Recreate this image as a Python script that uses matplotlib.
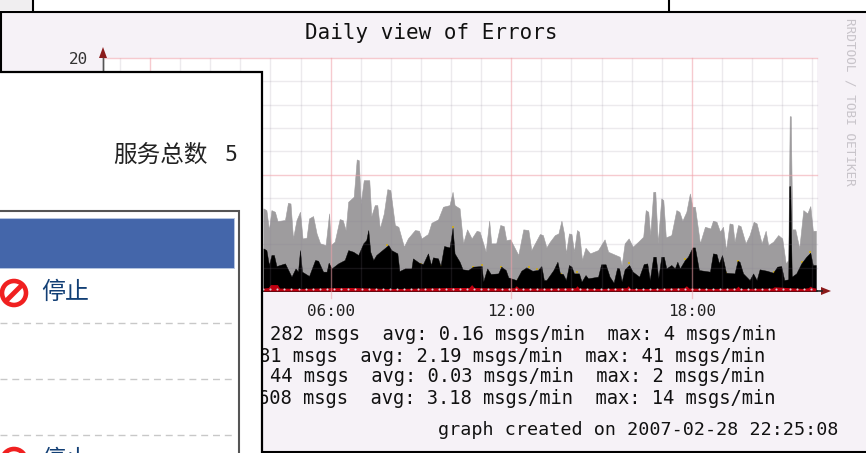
import numpy as np
import matplotlib
matplotlib.use("Agg")
import matplotlib.pyplot as plt
from matplotlib.patches import Rectangle, Circle, Polygon

plt.rcParams['font.family'] = ['Noto Sans CJK SC', 'DejaVu Sans']

W, H = 866, 453
MONO = 'DejaVu Sans Mono'

title = "Daily view of Errors"
tick_minutes = [0, 360, 720, 1080]
tick_labels = ["00:00", "06:00", "12:00", "18:00"]
legend_lines = ["282 msgs  avg: 0.16 msgs/min  max: 4 msgs/min",
                "81 msgs  avg: 2.19 msgs/min  max: 41 msgs/min",
                "44 msgs  avg: 0.03 msgs/min  max: 2 msgs/min",
                "608 msgs  avg: 3.18 msgs/min  max: 14 msgs/min"]
created = "graph created on 2007-02-28 22:25:08"
watermark = "RRDTOOL / TOBI OETIKER"
panel_title = "服务总数"
panel_count = "5"
status_label = "停止"

gray_t = [226,232,237,242,249,254,269,275,280,285,292,299,304,312,317,325,332,339,350,357,360,368,378,384,390,395,406,412,416,420,426,437,441,448,453,458,466,473,479,488,495,506,514,528,536,541,554,561,574,584,597,603,607,617,624,632,641,651,657,669,676,680,690,698,705,710,718,734,744,754,760,777,783,790,
          797,807,814,820,825,829,835,840,845,851,855,861,868,877,893,906,913,936,940,946,954,962,973,983,988,993,997,1003,1007,1012,1019,1023,1028,1039,1049,1055,1061,1069,1076,1081,1086,1096,1106,1117,1122,1129,1136,1142,1148,1155,1161,1165,1172,1177,1187,1195,1203,1209,1219,1227,1232,1242,1252,1260,1267,1272,1275,1277,1280,1286,1294,1302,1310,1316,1321,1327]
gray_v = [7.09,6.94,5.23,6.94,6.80,6.00,6.09,7.57,7.51,4.51,6.09,6.80,4.51,4.57,6.23,6.43,4.94,4.09,3.94,6.66,3.94,4.23,6.17,6.09,5.23,7.66,8.09,11.29,11.23,7.51,9.51,9.51,6.43,7.37,7.37,5.37,6.66,8.74,8.66,5.66,5.51,3.80,4.51,5.23,5.17,4.51,4.89,5.86,6.14,7.23,7.37,8.51,7.37,7.09,4.09,5.29,4.51,5.17,5.09,3.37,6.03,4.09,4.09,5.66,5.57,4.37,4.43,3.09,5.29,5.23,3.51,4.89,4.80,3.74,
          4.23,4.80,4.94,6.03,4.94,3.23,4.94,4.89,3.37,5.23,5.09,2.66,3.71,3.23,3.51,4.43,3.37,2.94,2.23,4.09,4.51,3.80,4.23,4.66,6.94,6.80,4.80,8.51,8.51,4.09,7.94,7.80,4.60,4.80,6.94,6.80,6.03,6.80,8.37,7.23,7.23,4.09,5.51,5.37,6.03,5.94,5.09,5.51,3.51,5.80,5.74,4.23,5.66,5.57,4.09,4.80,5.94,5.80,4.09,5.17,3.94,4.23,4.80,4.51,2.37,2.66,15.0,15.0,5.29,5.29,3.66,6.94,6.66,7.29,5.17,5.17]

black_t = [226,232,237,242,247,252,269,282,290,295,299,303,317,329,335,345,352,356,362,375,388,395,405,415,425,431,435,439,445,451,475,481,493,497,508,521,524,536,544,554,560,564,574,579,586,597,603,607,617,623,634,644,661,664,672,679,694,700,709,714,730,740,750,762,773,780,785,
           790,804,812,817,823,829,835,840,845,855,860,868,873,893,899,908,916,924,931,935,940,946,955,962,975,984,991,996,1003,1008,1013,1019,1024,1029,1039,1046,1051,1056,1066,1072,1081,1086,1094,1116,1122,1129,1134,1140,1144,1148,1165,1171,1175,1182,1195,1202,1209,1215,1229,1242,1250,1258,1264,1272,1274,1276,1279,1288,1298,1308,1316,1321,1327]
black_v = [3.66,3.51,2.23,3.09,3.09,2.14,2.37,1.23,1.94,1.66,3.51,1.66,1.29,2.66,2.60,1.66,1.66,2.43,1.94,2.37,2.66,3.51,3.37,3.09,4.09,4.37,5.23,3.37,2.66,3.09,3.94,3.51,3.23,1.71,1.94,1.94,2.80,2.43,2.31,3.23,2.23,2.89,2.80,2.14,3.86,3.74,5.43,3.23,2.51,1.86,1.80,2.09,2.14,0.80,1.94,1.46,1.51,2.09,1.80,1.17,0.94,1.74,2.03,1.74,1.80,2.14,0.94,
           0.94,1.80,2.51,1.51,1.46,0.94,2.23,2.09,1.51,1.51,0.80,1.37,1.09,1.23,2.29,2.29,1.23,0.71,2.00,1.94,0.80,1.86,2.23,1.66,1.23,2.31,2.37,0.94,2.94,2.94,1.09,2.94,2.94,1.94,2.23,1.94,2.51,1.94,2.66,2.94,3.74,3.74,1.80,1.66,3.23,3.17,2.37,3.09,2.37,1.57,1.51,2.60,2.51,1.51,0.94,1.51,0.94,1.86,1.74,1.57,2.09,2.14,0.94,1.00,9.0,9.0,1.23,1.51,2.37,2.94,3.29,2.23,2.23]

yellow_t = [473,541,579,603,643,661,700,733,755,771, 820,852,955,1067,1148,1172,1243,1300,1316]
yellow_v = [3.98,2.29,2.14,5.46,2.03,2.20,2.09,0.94,2.09,1.86, 1.46,1.60,2.37,2.71,1.57,2.60,1.60,2.51,3.31]

red_t = [226,236,240,254,258,300,360,400,470,500,600,636,641,646,700,726,730,735,800,848,851,855,900,950,953,957,1000,1064,1069,1074,1120,1168,1172,1176,1240,1244,1300,1312,1316,1320,1327]
red_v = [0.25,0.30,0.55,0.55,0.25,0.22,0.28,0.30,0.22,0.22,0.30,0.30,0.55,0.30,0.25,0.28,0.45,0.25,0.25,0.28,0.45,0.25,0.22,0.28,0.45,0.22,0.22,0.28,0.45,0.25,0.22,0.25,0.42,0.22,0.25,0.36,0.22,0.28,0.42,0.30,0.25]

dot_t = np.arange(226, 1327, 14)

PINK = '#F6F2F7'
fig = plt.figure(figsize=(W/100, H/100), dpi=100, facecolor='white')

def px_axes(z):
    a = fig.add_axes([0, 0, 1, 1], zorder=z)
    a.set_xlim(0, W); a.set_ylim(H, 0); a.axis('off'); a.patch.set_alpha(0)
    return a

bg = px_axes(0)
bg.add_patch(Rectangle((1, 11.5), W + 5, 440, fc=PINK, ec='black', lw=1.5))
bg.plot([32.5, 32.5], [0, 11], color='black', lw=1.5)
bg.plot([668.5, 668.5], [0, 11], color='black', lw=1.5)
bg.add_patch(Rectangle((0, 0), 32, 10.5, fc='#F0EEF0', ec='none'))

x_px = lambda p: (p - 150) * 1.993
ax = fig.add_axes([103/W, 1 - 291/H, 714/W, 233/H], zorder=1, facecolor='white')
ax.set_xlim(x_px(103), x_px(817)); ax.set_ylim(0, 20)
ax.fill_between(gray_t, 0, gray_v, color='#9E9C9E', lw=0.4, zorder=2)
ax.fill_between(black_t, 0, black_v, color='black', lw=0.3, zorder=3)
ax.scatter(yellow_t, yellow_v, s=2.5, marker='s', color='#C8AA28', lw=0, zorder=2.5)
ax.fill_between(red_t, 0, red_v, color='#C00010', lw=0, zorder=4)
ax.scatter(dot_t, np.full(dot_t.shape, 0.17), s=2.2, color='#D8D4D8', lw=0, zorder=5)

for v in range(2, 21, 2):
    if v % 10:
        ax.axhline(v, color='#8A7F95', alpha=.16, lw=1, zorder=6, clip_on=False)
for t in range(-60, 1330, 60):
    if t % 360:
        ax.axvline(t, color='#8A7F95', alpha=.16, lw=1, zorder=6)
for v in (10, 20):
    ax.axhline(v, color='#F0A0A8', alpha=.55, lw=1, zorder=7, clip_on=False)
for t in tick_minutes:
    ax.plot([t, t], [-0.6, 20], color='#F0A0A8', alpha=.55, lw=1, zorder=7, clip_on=False)
for s in ('top', 'right'):
    ax.spines[s].set_visible(False)
ax.spines['left'].set_color('#555555'); ax.spines['bottom'].set_color('#222222')
ax.spines['left'].set_linewidth(1); ax.spines['bottom'].set_linewidth(1.2)
ax.set_yticks([20]); ax.set_yticklabels(['20'], family=MONO, fontsize=11.5, color='#333333')
ax.set_xticks(tick_minutes); ax.set_xticklabels(tick_labels, family=MONO, fontsize=11.5, color='#222222')
ax.tick_params(length=0, pad=9)
ax.tick_params(axis='y', pad=11)

top = px_axes(2)
top.add_patch(Polygon([[99, 58], [107, 58], [103, 47]], fc='#8B1A1A', ec='none'))
top.add_patch(Polygon([[821, 287], [821, 295], [831, 291]], fc='#8B1A1A', ec='none'))
top.plot([103, 103], [58, 72], color='#555555', lw=1)
top.plot([817, 822], [291, 291], color='#222222', lw=1.2)
top.text(431, 33, title, family=MONO, fontsize=15, ha='center', va='center', color='#111111')
for y, xr, s in zip([334, 356, 377, 398], [776, 765, 765, 776], legend_lines):
    top.text(xr, y, s, family=MONO, fontsize=13.5, ha='right', va='center', color='#111111')
top.text(839, 430, created, family=MONO, fontsize=13.2, ha='right', va='center', color='#111111')
top.text(850, 102, watermark, family=MONO, fontsize=9.2, rotation=-90, ha='center', va='center', color='#C8C4CA')

pn = px_axes(3)
pn.add_patch(Rectangle((-5, 71.5), 267, 400, fc='white', ec='black', lw=1.6))
pn.text(113, 155, panel_title, fontsize=17, ha='left', va='center', color='#222222')
pn.text(237, 155, panel_count, family=MONO, fontsize=15.5, ha='right', va='center', color='#222222')
pn.add_patch(Rectangle((-5, 211), 244, 260, fc='white', ec='#555555', lw=1.5))
pn.add_patch(Rectangle((-5, 218), 239, 50, fc='#4466AA', ec='#B5C5E0', lw=.7))
for y in (323, 379, 435):
    pn.plot([0, 234], [y, y], color='#C8C8C8', lw=1, dashes=(5, 3.5))
for cy in (293, 461):
    pn.add_patch(Circle((14, cy), 12, fc='white', ec='#F02020', lw=3.3))
    pn.plot([5.5, 22.5], [cy + 8.5, cy - 8.5], color='#F02020', lw=3.5, solid_capstyle='butt')
    pn.text(41, cy - 1, status_label, fontsize=17.3, ha='left', va='center', color='#123F75')

fig.savefig('out.png', dpi=100)
